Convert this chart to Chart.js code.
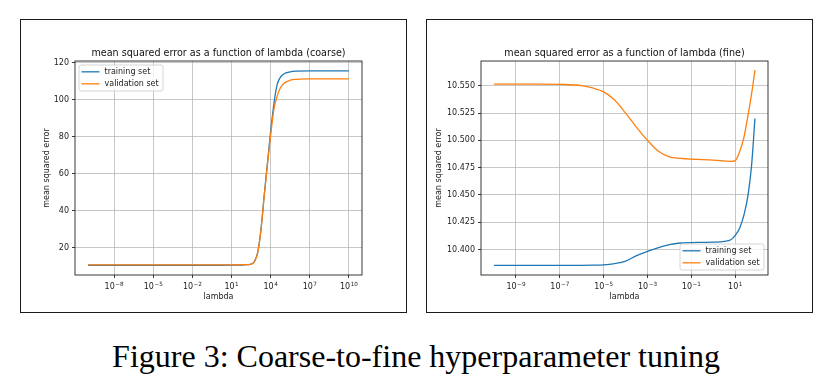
<!DOCTYPE html>
<html>
<head>
<meta charset="utf-8">
<script src="https://cdn.jsdelivr.net/npm/chart.js@4.4.0/dist/chart.umd.min.js"></script>
<style>
  body { margin: 0; background: #fff; width: 832px; height: 386px; position: relative; overflow: hidden; }
  .panel { position: absolute; top: 19px; width: 387px; height: 294px; }
  .frame { position: absolute; top: 19px; width: 387px; height: 294px; box-sizing: border-box;
           border: 1.4px solid #1a1a1a; pointer-events: none; }
  #caption { position: absolute; left: 0; width: 832px; top: 340px; text-align: center;
             font: 32px/32px "Liberation Serif", "Times New Roman", serif; color: #000; }
</style>
</head>
<body>
<div class="panel" style="left:20px"><canvas id="coarse" width="387" height="294"></canvas></div>
<div class="panel" style="left:426px"><canvas id="fine" width="387" height="294"></canvas></div>
<div class="frame" style="left:20px"></div>
<div class="frame" style="left:426px"></div>
<div id="caption">Figure 3: Coarse-to-fine hyperparameter tuning</div>

<script>
// ---------------------------------------------------------------------------
// Data (x values are log10(lambda))
// ---------------------------------------------------------------------------

const coarseExp   = [-10, -6, -2, 0, 1, 2, 2.5, 2.75, 3, 3.25, 3.5, 3.75, 4, 4.25, 4.5, 4.75, 5, 5.5, 6, 7, 8, 10];
const coarseTrain = [10.386, 10.386, 10.386, 10.39, 10.42, 10.65, 11.0, 12.4, 17.2, 29.5, 48, 65.5, 83, 98, 108.3, 112.3, 114, 115.1, 115.5, 115.7, 115.7, 115.7];
const coarseVal   = [10.551, 10.551, 10.551, 10.552, 10.56, 10.75, 10.9, 12.3, 17, 29, 47.5, 65, 81, 95, 102, 106.5, 108.8, 110.6, 111.1, 111.3, 111.3, 111.3];
const coarseXTicks = [-8, -5, -2, 1, 4, 7, 10];
const coarseYTicks = [20, 40, 60, 80, 100, 120];

const fineExp   = [-10, -8, -7, -6, -5.5, -5, -4.5, -4, -3.5, -3, -2.5, -2, -1.5, -1, -0.5, 0, 0.5, 0.8, 1.0, 1.2, 1.4, 1.6, 1.75, 1.9];
const fineTrain = [10.3856, 10.3856, 10.3856, 10.3856, 10.3857, 10.386, 10.3872, 10.3895, 10.3945, 10.3984, 10.4018, 10.4046, 10.406, 10.4064, 10.4066, 10.4068, 10.4075, 10.409, 10.413, 10.4195, 10.4317, 10.452, 10.478, 10.520];
const fineVal   = [10.5515, 10.5515, 10.5513, 10.5502, 10.548, 10.5445, 10.537, 10.525, 10.512, 10.500, 10.490, 10.4848, 10.4835, 10.4828, 10.4824, 10.4819, 10.4812, 10.4808, 10.4815, 10.4895, 10.503, 10.525, 10.543, 10.5644];
const fineXTicks = [-9, -7, -5, -3, -1, 1];
const fineYTicks = [10.400, 10.425, 10.450, 10.475, 10.500, 10.525, 10.550];

const seriesNames = ['training set', 'validation set'];
const seriesColors = ['#1f77b4', '#ff7f0e'];

// ---------------------------------------------------------------------------
// Helpers
// ---------------------------------------------------------------------------

const FONT = '"DejaVu Sans", Verdana, sans-serif';

function pts(exps, vals) { return exps.map((e, i) => ({ x: Math.pow(10, e), y: vals[i] })); }

// spines, legend box and 10^n tick labels drawn the matplotlib way
const mplFrame = {
  id: 'mplFrame',
  afterDatasetsDraw(chart, args, opts) {
    const { ctx, chartArea: a } = chart;
    ctx.save();
    ctx.strokeStyle = '#222';
    ctx.lineWidth = 0.9;
    ctx.strokeRect(a.left, a.top, a.right - a.left, a.bottom - a.top);

    // legend
    const w = 84, h = 26;
    const lx = opts.corner === 'lr' ? a.right - 4 - w : a.left + 4;
    const y = opts.corner === 'lr' ? a.bottom - 5 - h : a.top + 4;
    ctx.beginPath();
    ctx.roundRect(lx, y, w, h, 2);
    ctx.fillStyle = 'rgba(255,255,255,0.8)';
    ctx.fill();
    ctx.strokeStyle = '#cccccc';
    ctx.lineWidth = 0.8;
    ctx.stroke();

    ctx.font = '8px ' + FONT;
    ctx.textBaseline = 'middle';
    chart.data.datasets.forEach((ds, i) => {
      const yy = y + 6.8 + i * 12;
      ctx.strokeStyle = ds.borderColor;
      ctx.lineWidth = 1.3;
      ctx.beginPath();
      ctx.moveTo(lx + 2.5, yy);
      ctx.lineTo(lx + 20.5, yy);
      ctx.stroke();
      ctx.fillStyle = '#222';
      ctx.fillText(ds.label, lx + 25.5, yy + 0.5);
    });

    // x tick labels: "10" with a raised, smaller exponent
    const sx = chart.scales.x;
    ctx.fillStyle = '#222';
    ctx.textBaseline = 'alphabetic';
    ctx.textAlign = 'left';
    sx.ticks.forEach(t => {
      const px = sx.getPixelForValue(t.value);
      const e = Math.round(Math.log10(t.value));
      const sup = (e < 0 ? '\u2212' : '') + Math.abs(e);
      ctx.font = '8px ' + FONT;
      const wb = ctx.measureText('10').width;
      ctx.font = '5.7px ' + FONT;
      const we = ctx.measureText(sup).width;
      const x0 = px - (wb + we + 0.5) / 2;
      const base = a.bottom + 14.3;
      ctx.font = '8px ' + FONT;
      ctx.fillText('10', x0, base);
      ctx.font = '5.7px ' + FONT;
      ctx.fillText(sup, x0 + wb + 0.5, base - 3.6);
    });
    ctx.restore();
  }
};

function makeChart(id, cfg) {
  const datasets = [cfg.train, cfg.val].map((vals, i) => ({
    label: seriesNames[i],
    data: pts(cfg.exp, vals),
    borderColor: seriesColors[i],
    borderWidth: 1.3,
    pointRadius: 0,
    cubicInterpolationMode: 'monotone',
    order: i === 0 ? 1 : 0,
  }));

  const grid = { color: '#b0b0b0', lineWidth: 0.7, tickColor: '#222', tickLength: 3, tickWidth: 0.9 };
  const tickFont = { family: FONT, size: 8 };

  return new Chart(document.getElementById(id), {
    type: 'line',
    data: { datasets },
    plugins: [mplFrame],
    options: {
      responsive: false,
      animation: false,
      devicePixelRatio: 1,
      layout: { padding: { left: 0, right: 45, top: 0, bottom: 0 } },
      plugins: {
        legend: { display: false },
        tooltip: { enabled: false },
        title: {
          display: true, text: cfg.title, fullSize: false, color: '#111',
          font: { family: FONT, size: 9.6, weight: 'normal' },
          padding: { top: 28.5, bottom: 2 },
        },
        mplFrame: { corner: cfg.corner },
      },
      scales: {
        x: {
          type: 'logarithmic',
          min: Math.pow(10, cfg.xRange[0]), max: Math.pow(10, cfg.xRange[1]),
          grid, border: { display: false },
          afterBuildTicks: s => { s.ticks = cfg.xTicks.map(e => ({ value: Math.pow(10, e) })); },
          afterFit: s => { s.height = 38; },
          ticks: { display: false, autoSkip: false },
          title: { display: true, text: 'lambda', color: '#222', font: { family: FONT, size: 8 }, padding: { top: 0, bottom: 11 } },
        },
        y: {
          min: cfg.yRange[0], max: cfg.yRange[1],
          grid, border: { display: false },
          afterBuildTicks: s => { s.ticks = cfg.yTicks.map(v => ({ value: v })); },
          afterFit: s => { s.width = 55; },
          ticks: { font: tickFont, color: '#222', padding: 3, callback: v => cfg.yFmt(v) },
          title: { display: true, text: 'mean squared error', color: '#222', font: { family: FONT, size: 8 }, padding: { top: cfg.yTitlePad, bottom: 0 } },
        },
      },
    },
  });
}

makeChart('coarse', {
  title: 'mean squared error as a function of lambda (coarse)',
  exp: coarseExp, train: coarseTrain, val: coarseVal,
  xTicks: coarseXTicks, yTicks: coarseYTicks,
  xRange: [-11, 11], yRange: [5.1, 121.0],
  yFmt: v => String(Math.round(v)),
  yTitlePad: 22, corner: 'ul',
});

makeChart('fine', {
  title: 'mean squared error as a function of lambda (fine)',
  exp: fineExp, train: fineTrain, val: fineVal,
  xTicks: fineXTicks, yTicks: fineYTicks,
  xRange: [-10.595, 2.495], yRange: [10.3767, 10.5727],
  yFmt: v => v.toFixed(3),
  yTitlePad: 8.5, corner: 'lr',
});
</script>
</body>
</html>
